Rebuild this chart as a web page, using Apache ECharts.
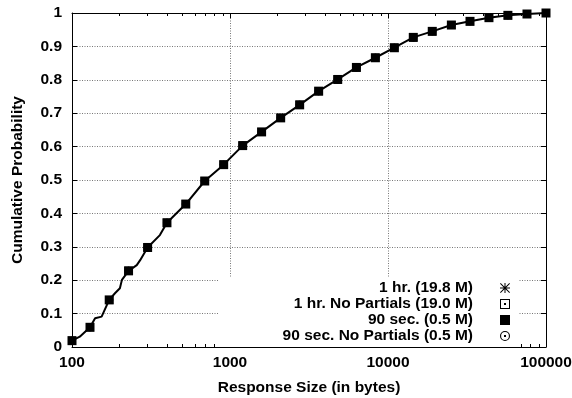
<!DOCTYPE html>
<html>
<head>
<meta charset="utf-8">
<script src="https://cdn.jsdelivr.net/npm/echarts@6/dist/echarts.min.js"></script>
<style>
html,body{margin:0;padding:0;background:#fff;}
#chart{width:572px;height:398px;}
</style>
</head>
<body>
<div id="chart"></div>
<script>
// ---- data ----
// sampled points (markers) — all four curves coincide
var markerX = [100,130,172,228,301,399,525,692,912,1203,1585,2093,2760,3640,4805,6310,8318,10965,14454,19055,25180,33040,43550,57400,75800,100000];
var markerY = [0.019,0.059,0.141,0.228,0.298,0.372,0.428,0.497,0.546,0.603,0.644,0.686,0.725,0.766,0.801,0.837,0.866,0.896,0.927,0.945,0.964,0.975,0.986,0.993,0.997,1.0];
// full curve (including small steps between markers)
var curveX = [100,112,130,140,154,172,187,201,207,228,257,270,301,360,399,525,692,912,1203,1585,2093,2760,3640,4805,6310,8318,10965,14454,19055,25180,33040,43550,57400,75800,100000];
var curveY = [0.019,0.031,0.059,0.086,0.091,0.141,0.161,0.176,0.201,0.228,0.245,0.260,0.298,0.335,0.372,0.428,0.497,0.546,0.603,0.644,0.686,0.725,0.766,0.801,0.837,0.866,0.896,0.927,0.945,0.964,0.975,0.986,0.993,0.997,1.0];
var seriesNames = ['1 hr. (19.8 M)','1 hr. No Partials (19.0 M)','90 sec. (0.5 M)','90 sec. No Partials (0.5 M)'];
var xMajorTicks = [100,1000,10000,100000];
var yTicks = [0,0.1,0.2,0.3,0.4,0.5,0.6,0.7,0.8,0.9,1];
var xMinorTicks = [];
[100,1000,10000].forEach(function(d){ for(var k=2;k<=9;k++) xMinorTicks.push(d*k); });

var FONT = 'Liberation Sans, Arial, Helvetica, sans-serif';
var FS = 15.5;
var ICON_ASTER = 'path://M4.5 0H5.5V10H4.5Z M0 4.5H10V5.5H0Z M0.7 0L10 9.3L9.3 10L0 0.7Z M9.3 0L10 0.7L0.7 10L0 9.3Z';
var ICON_SQDOT = 'path://M0 0H10V10H0Z M1 1V9H9V1Z M4 4H6V6H4Z';
var ICON_SQ = 'path://M0 0H10V10H0Z';
var ICON_CIRDOT = 'path://M5 0A5 5 0 1 1 5 10A5 5 0 1 1 5 0Z M5 1.1A3.9 3.9 0 1 0 5 8.9A3.9 3.9 0 1 0 5 1.1Z M4 4H6V6H4Z';
var icons = [ICON_ASTER, ICON_SQDOT, ICON_SQ, ICON_CIRDOT];

function pairs(xs, ys){ return xs.map(function(x,i){ return [x, ys[i]]; }); }

var chart = echarts.init(document.getElementById('chart'), null, {renderer:'canvas'});

var lineStyleGrid = {color:'#777', width:1, type:[1,1.5]};
function xAxisBase(pos){
  return {type:'log', logBase:10, min:100, max:100000, position:pos, gridIndex:0};
}
var xAxes = [
  Object.assign(xAxisBase('bottom'), {
    name:'Response Size (in bytes)', nameLocation:'middle', nameGap:33,
    nameTextStyle:{fontFamily:FONT, fontWeight:'bold', fontSize:FS, color:'#000'},
    axisLine:{show:true, lineStyle:{color:'#000', width:1}},
    axisTick:{show:true, inside:true, length:5, lineStyle:{color:'#000'}},
    axisLabel:{show:true, margin:8, fontFamily:FONT, fontWeight:'bold', fontSize:FS, color:'#000',
      formatter:function(v){ var r = Math.round(v); return xMajorTicks.indexOf(r)>=0 ? String(r) : ''; }},
    splitLine:{show:true, lineStyle:lineStyleGrid},
    minorTick:{show:false}
  }),
  Object.assign(xAxisBase('bottom'), {
    axisLine:{show:false}, axisLabel:{show:false}, splitLine:{show:false},
    axisTick:{show:true, inside:true, length:3, customValues:xMinorTicks, lineStyle:{color:'#000'}}
  }),
  Object.assign(xAxisBase('top'), {
    axisLine:{show:true, lineStyle:{color:'#000', width:1}}, axisLabel:{show:false}, splitLine:{show:false},
    axisTick:{show:true, inside:true, length:5, lineStyle:{color:'#000'}}
  }),
  Object.assign(xAxisBase('top'), {
    axisLine:{show:false}, axisLabel:{show:false}, splitLine:{show:false},
    axisTick:{show:true, inside:true, length:3, customValues:xMinorTicks, lineStyle:{color:'#000'}}
  })
];

var yAxes = [
  {type:'value', min:0, max:1, interval:0.1, position:'left',
   name:'Cumulative Probability', nameLocation:'middle', nameGap:46, nameRotate:90,
   nameTextStyle:{fontFamily:FONT, fontWeight:'bold', fontSize:FS, color:'#000'},
   axisLine:{show:true, lineStyle:{color:'#000', width:1}},
   axisTick:{show:true, inside:true, length:5, lineStyle:{color:'#000'}},
   axisLabel:{show:true, margin:10, fontFamily:FONT, fontWeight:'bold', fontSize:FS, color:'#000',
     formatter:function(v){ return String(Math.round(v*10)/10); }},
   splitLine:{show:true, lineStyle:lineStyleGrid}},
  {type:'value', min:0, max:1, interval:0.1, position:'right',
   axisLine:{show:true, lineStyle:{color:'#000', width:1}},
   axisTick:{show:true, inside:true, length:5, lineStyle:{color:'#000'}},
   axisLabel:{show:false}, splitLine:{show:false}}
];

var series = [{
  name:'curve', type:'line', xAxisIndex:0, yAxisIndex:0, data:pairs(curveX, curveY),
  showSymbol:false, symbol:'none', lineStyle:{color:'#000', width:2}, z:3, silent:true
}];
// draw the filled-square series last so it sits on top
[0,1,3,2].forEach(function(i){
  series.push({
    name:seriesNames[i], type:'scatter', xAxisIndex:0, yAxisIndex:0,
    data:pairs(markerX, markerY), symbol:icons[i], symbolKeepAspect:true,
    symbolSize: i===2 ? 9 : 8, itemStyle:{color:'#000', opacity:1}, z: i===2 ? 6 : 4
  });
});

chart.setOption({
  animation:false,
  backgroundColor:'#fff',
  grid:{left:72, right:26, top:13, bottom:51, containLabel:false, outerBoundsMode:'none'},
  xAxis:xAxes,
  yAxis:yAxes,
  legend:{
    orient:'vertical', align:'right', right:54, top:277,
    padding:[3,8,3,64], backgroundColor:'#fff', itemGap:0,
    itemWidth:54, itemHeight:10, symbolKeepAspect:true,
    textStyle:{fontFamily:FONT, fontWeight:'bold', fontSize:FS, color:'#000'},
    data: seriesNames.map(function(n,i){ return {name:n, icon:icons[i], itemStyle:{color:'#000'}}; }),
    selectedMode:false
  },
  series:series
});
</script>
</body>
</html>
